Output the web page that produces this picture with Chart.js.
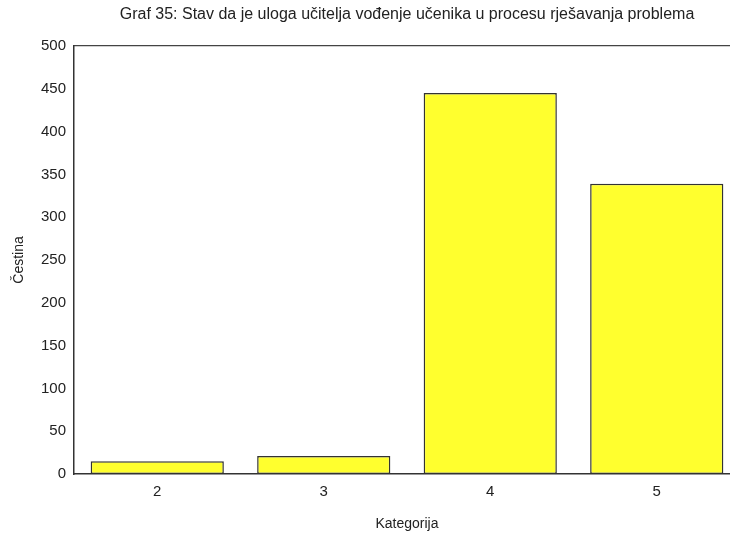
<!DOCTYPE html>
<html>
<head>
<meta charset="utf-8">
<script src="https://cdn.jsdelivr.net/npm/chart.js@4/dist/chart.umd.min.js"></script>
<style>
    html, body { margin: 0; padding: 0; background: #fff; overflow: hidden; }
    #wrap { width: 740px; height: 534px; }
</style>
</head>
<body>
<div id="wrap"><canvas id="bar-canvas" width="740" height="534"></canvas></div>
<script>
var categories = ['2', '3', '4', '5'];
var counts = [15, 21, 445, 339];
var yTicks = [0, 50, 100, 150, 200, 250, 300, 350, 400, 450, 500];

var chartTitle = 'Graf 35: Stav da je uloga učitelja vođenje učenika u procesu rješavanja problema';

var fontFamily = '"Liberation Sans", Arial, sans-serif';
var inkColor = '#222';

var ctx = document.getElementById('bar-canvas').getContext('2d');

var barChart = new Chart(ctx, {
    type: 'bar',
    data: {
        labels: categories,
        datasets: [
            {
                label: 'Čestina',
                data: counts,
                backgroundColor: '#ffff2e',
                borderColor: '#333',
                borderWidth: 1.5,
                borderSkipped: false,
                barPercentage: 0.8,
                categoryPercentage: 1.0
            }
        ]
    },
    options: {
        responsive: false,
        animation: false,
        layout: { padding: 0 },
        plugins: {
            legend: { display: false },
            tooltip: { enabled: false },
            title: {
                display: true,
                text: chartTitle,
                fullSize: false,
                color: inkColor,
                font: { family: fontFamily, size: 16, weight: 'normal' },
                padding: { top: 5, bottom: 0 }
            }
        },
        scales: {
            x: {
                position: 'bottom',
                grid: { display: false, drawTicks: false },
                border: { display: true, color: '#333', width: 1.5 },
                ticks: {
                    color: inkColor,
                    padding: 9,
                    font: { family: fontFamily, size: 15 }
                },
                title: {
                    display: true,
                    text: 'Kategorija',
                    color: inkColor,
                    padding: { top: 8, bottom: 1 },
                    font: { family: fontFamily, size: 14 }
                },
                afterFit: function(scale) { scale.height = 60; }
            },
            x2: {
                position: 'top',
                type: 'category',
                labels: categories,
                grid: { display: false, drawTicks: false },
                border: { display: true, color: '#444', width: 1.2 },
                ticks: { display: false },
                afterFit: function(scale) { scale.height = 21.8; }
            },
            y: {
                min: 0,
                max: 500,
                afterBuildTicks: function(scale) {
                    scale.ticks = yTicks.map(function(v) { return { value: v }; });
                },
                grid: { display: false, drawTicks: false },
                border: { display: true, color: '#333', width: 1.5 },
                ticks: {
                    color: inkColor,
                    padding: 8,
                    font: { family: fontFamily, size: 15 }
                },
                title: {
                    display: true,
                    text: 'Čestina',
                    color: inkColor,
                    padding: { top: 11, bottom: 4 },
                    font: { family: fontFamily, size: 14 }
                },
                afterFit: function(scale) { scale.width = 74; }
            }
        }
    }
});
</script>
</body>
</html>
